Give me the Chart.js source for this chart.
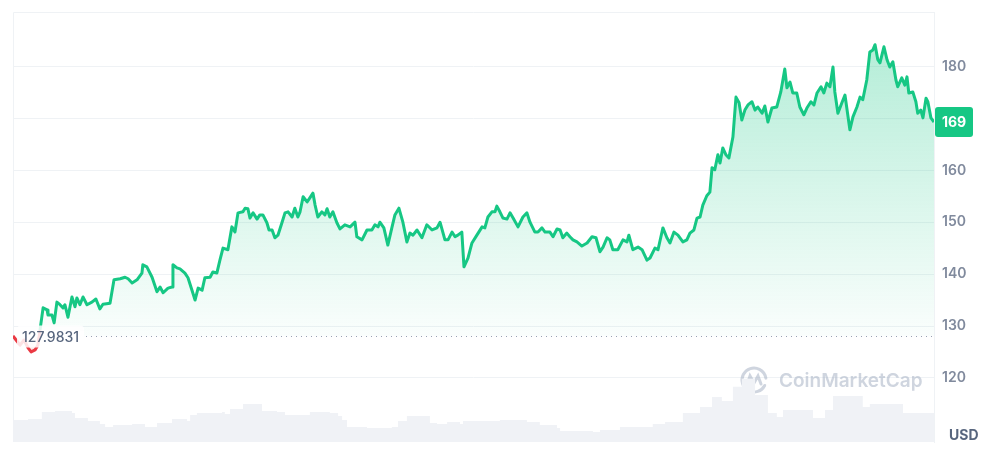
<!DOCTYPE html>
<html>
<head>
<meta charset="utf-8">
<script src="https://cdn.jsdelivr.net/npm/chart.js"></script>
<style>
  html, body { margin: 0; padding: 0; background: #fff; }
  #wrap { width: 1003px; height: 451px; }
</style>
</head>
<body>
<div id="wrap"><canvas id="priceChart"></canvas></div>
<script>
// Price over the month (x = days since start)
var priceDays = [
  0, 0.10, 0.23, 0.36, 0.49, 0.59, 0.72, 0.81, 0.88, 0.98,
  1.11, 1.14, 1.27, 1.34, 1.43, 1.53, 1.63, 1.69, 1.79, 1.92,
  2.02, 2.08, 2.18, 2.28, 2.41, 2.57, 2.70, 2.83, 2.93, 3.16,
  3.29, 3.49, 3.65, 3.75, 3.88, 4.04, 4.20, 4.23, 4.36, 4.53,
  4.69, 4.79, 4.89, 5.05, 5.18, 5.21, 5.34, 5.44, 5.60, 5.70,
  5.83, 5.93, 6.03, 6.16, 6.25, 6.42, 6.51, 6.64, 6.74, 6.84,
  7.00, 7.13, 7.23, 7.33, 7.49, 7.56, 7.65, 7.72, 7.82, 7.95,
  8.04, 8.14, 8.27, 8.34, 8.44, 8.53, 8.63, 8.76, 8.86, 8.96,
  9.09, 9.18, 9.28, 9.35, 9.45, 9.58, 9.67, 9.77, 9.84, 9.93,
  10.06, 10.16, 10.23, 10.32, 10.42, 10.55, 10.65, 10.81, 10.98, 11.14,
  11.20, 11.37, 11.53, 11.69, 11.79, 11.89, 11.95, 12.08, 12.21, 12.34,
  12.44, 12.57, 12.70, 12.83, 12.93, 13.03, 13.16, 13.32, 13.48, 13.65,
  13.81, 13.91, 14.07, 14.17, 14.30, 14.40, 14.49, 14.62, 14.69, 14.82,
  14.95, 15.11, 15.28, 15.37, 15.47, 15.60, 15.70, 15.76, 15.86, 15.96,
  16.09, 16.19, 16.29, 16.45, 16.61, 16.74, 16.84, 17.00, 17.10, 17.23,
  17.33, 17.49, 17.59, 17.72, 17.82, 17.91, 18.04, 18.14, 18.24, 18.37,
  18.53, 18.70, 18.86, 18.99, 19.12, 19.22, 19.35, 19.44, 19.54, 19.70,
  19.87, 20.00, 20.06, 20.19, 20.36, 20.49, 20.65, 20.75, 20.91, 21.01,
  21.17, 21.30, 21.40, 21.53, 21.66, 21.82, 21.95, 22.05, 22.18, 22.28,
  22.38, 22.47, 22.60, 22.70, 22.77, 22.86, 22.96, 23.03, 23.12, 23.22,
  23.32, 23.45, 23.55, 23.65, 23.74, 23.84, 23.94, 24.07, 24.17, 24.26,
  24.40, 24.49, 24.59, 24.72, 24.88, 25.01, 25.14, 25.21, 25.31, 25.40,
  25.53, 25.63, 25.76, 25.86, 25.99, 26.09, 26.19, 26.32, 26.41, 26.51,
  26.61, 26.71, 26.77, 26.87, 27.00, 27.10, 27.26, 27.36, 27.49, 27.59,
  27.68, 27.81, 27.91, 28.01, 28.08, 28.17, 28.24, 28.37, 28.47, 28.56,
  28.66, 28.76, 28.82, 28.95, 29.05, 29.12, 29.18, 29.31, 29.41, 29.47,
  29.57, 29.64, 29.74, 29.80, 29.90, 30.00
];
var priceValues = [
  128.1, 127.3, 126.3, 127.3, 125.8, 125.0, 125.4, 126.3, 129.2, 133.5,
  133.1, 132.1, 132.1, 130.6, 134.6, 134.1, 133.5, 134.1, 131.7, 135.6,
  133.7, 135.4, 134.1, 135.6, 134.1, 134.6, 135.2, 133.3, 134.2, 134.4,
  138.9, 139.1, 139.4, 139.1, 138.3, 138.9, 140.2, 141.8, 141.4, 139.4,
  136.6, 137.5, 136.4, 137.3, 137.5, 141.8, 141.2, 141.0, 140.2, 139.3,
  136.9, 135.0, 137.3, 136.9, 139.3, 139.4, 140.4, 140.2, 142.7, 145.0,
  144.7, 149.1, 148.1, 151.8, 152.0, 152.7, 152.6, 150.8, 151.8, 150.6,
  151.4, 151.4, 149.9, 148.5, 148.5, 147.0, 147.5, 149.9, 151.8, 152.0,
  151.0, 152.7, 151.0, 152.0, 154.9, 153.9, 154.7, 155.6, 153.3, 151.0,
  152.0, 151.4, 152.6, 151.0, 152.0, 149.9, 148.7, 149.5, 149.1, 150.0,
  147.2, 146.6, 148.5, 148.5, 149.5, 149.1, 150.0, 148.9, 145.6, 148.9,
  151.4, 152.7, 150.0, 146.2, 147.9, 147.5, 148.5, 147.0, 149.5, 148.5,
  148.9, 150.0, 146.6, 146.6, 148.1, 147.2, 147.5, 148.1, 141.4, 143.1,
  146.0, 147.5, 149.1, 148.9, 151.0, 152.0, 152.0, 153.1, 152.0, 150.8,
  150.6, 151.8, 150.8, 149.1, 151.0, 151.8, 150.0, 148.1, 148.1, 148.9,
  148.1, 148.1, 147.2, 148.7, 148.5, 147.0, 147.9, 147.2, 146.6, 146.2,
  145.4, 146.0, 147.2, 147.0, 144.3, 145.2, 147.0, 146.6, 144.7, 144.7,
  146.6, 146.2, 147.5, 144.7, 145.2, 144.7, 142.7, 143.1, 145.0, 144.7,
  148.9, 147.0, 146.0, 148.1, 147.5, 146.2, 146.6, 147.9, 148.5, 150.8,
  151.0, 153.3, 155.1, 155.8, 160.5, 160.1, 163.0, 161.4, 164.3, 163.0,
  162.4, 166.4, 174.1, 173.0, 169.7, 171.6, 172.6, 173.2, 171.6, 172.2,
  171.0, 172.4, 169.3, 172.0, 172.2, 175.1, 179.5, 175.9, 177.0, 174.9,
  174.9, 172.2, 170.7, 172.0, 173.2, 172.6, 174.9, 176.1, 174.9, 176.8,
  176.1, 179.9, 175.1, 171.0, 173.0, 174.5, 167.8, 170.3, 172.2, 174.1,
  173.6, 177.4, 182.8, 183.2, 184.2, 181.3, 180.7, 183.8, 181.3, 179.9,
  180.9, 177.4, 176.1, 177.8, 176.4, 178.0, 174.9, 175.1, 173.2, 171.0,
  171.6, 170.1, 173.9, 173.2, 170.1, 169.3
];

// Trading volume (millions USD), each value holds until the next day mark
var volumeDays = [
  0, 0.49, 0.94, 1.37, 1.92, 2.02, 2.44, 2.83, 3.00, 3.26,
  3.88, 4.30, 4.69, 5.18, 5.67, 5.77, 5.99, 6.81, 6.90, 7.07,
  7.49, 8.11, 8.60, 8.86, 9.67, 10.32, 10.59, 10.72, 10.88, 11.53,
  12.34, 12.54, 12.83, 13.58, 13.81, 14.14, 14.56, 14.66, 15.86, 16.74,
  17.16, 17.72, 17.82, 18.89, 19.12, 19.77, 20.84, 21.24, 21.82, 22.38,
  22.77, 23.09, 23.45, 23.74, 24.17, 24.59, 24.88, 25.08, 26.06, 26.45,
  26.71, 27.68, 27.91, 28.99, 30.00
];
var volumeValues = [
  264, 276, 360, 372, 348, 288, 252, 216, 180, 204,
  216, 180, 228, 276, 252, 324, 348, 360, 336, 396,
  456, 372, 360, 324, 360, 348, 312, 264, 180, 168,
  180, 252, 312, 228, 216, 240, 216, 252, 264, 240,
  204, 168, 132, 120, 144, 180, 216, 240, 348, 420,
  540, 492, 660, 756, 564, 348, 300, 384, 288, 384,
  552, 420, 456, 348, 348
];

var priceTicks = [120, 130, 140, 150, 160, 170, 180];
var openPrice = 127.9831;
var openLabel = '127.9831';
var lastPriceLabel = '169';
var currency = 'USD';

var green = '#16c784';
var red = '#ea3943';

var overlay = {
  id: 'overlay',
  beforeDatasetsDraw: function(chart) {
    var c = chart.ctx, a = chart.chartArea;
    c.save();
    // frame top and left
    c.strokeStyle = '#eff2f5';
    c.lineWidth = 1;
    c.beginPath();
    c.moveTo(a.left + 0.5, a.bottom);
    c.lineTo(a.left + 0.5, a.top + 0.5);
    c.lineTo(a.right, a.top + 0.5);
    c.stroke();
    // watermark
    var cx = 754, cy = 380;
    c.strokeStyle = 'rgba(160,172,192,0.5)';
    c.lineWidth = 3;
    c.lineCap = 'round';
    c.beginPath();
    c.arc(cx, cy, 12, 0.15 * Math.PI, 1.95 * Math.PI);
    c.stroke();
    c.beginPath();
    c.moveTo(cx - 7, cy + 5);
    c.lineTo(cx - 4, cy - 4);
    c.lineTo(cx, cy + 3);
    c.lineTo(cx + 4, cy - 4);
    c.lineTo(cx + 7, cy + 4);
    c.stroke();
    c.fillStyle = 'rgba(160,172,192,0.5)';
    c.font = '600 19px Inter';
    c.textBaseline = 'middle';
    c.fillText('CoinMarketCap', 779, 381);
    c.restore();
  },
  afterDatasetsDraw: function(chart) {
    var c = chart.ctx, a = chart.chartArea;
    var py = Math.round(chart.scales.y.getPixelForValue(openPrice)) + 0.5;
    c.save();
    c.strokeStyle = '#98a1b3';
    c.lineWidth = 1.2;
    c.setLineDash([1, 4]);
    c.beginPath();
    c.moveTo(86, py);
    c.lineTo(a.right, py);
    c.stroke();
    c.setLineDash([]);
    c.fillStyle = 'rgba(255,255,255,0.85)';
    c.beginPath();
    c.roundRect(17, py - 11, 67, 22, 4);
    c.fill();
    c.fillStyle = '#58667e';
    c.font = '500 14px Inter';
    c.textBaseline = 'middle';
    c.fillText(openLabel, 22, py + 1);
    c.restore();
  },
  afterDraw: function(chart) {
    var c = chart.ctx, a = chart.chartArea;
    var last = priceValues[priceValues.length - 1];
    var py = chart.scales.y.getPixelForValue(last);
    c.save();
    c.fillStyle = green;
    c.beginPath();
    c.roundRect(a.right + 1, py - 15, 38, 30, 3);
    c.fill();
    c.fillStyle = '#fff';
    c.font = '700 14px Inter';
    c.textAlign = 'center';
    c.textBaseline = 'middle';
    c.fillText(lastPriceLabel, a.right + 20, py + 1);
    c.textAlign = 'left';
    c.fillStyle = '#58667e';
    c.font = '700 14px Inter';
    c.fillText(currency, 949, 436);
    c.restore();
  }
};

var ctx = document.getElementById('priceChart').getContext('2d');
var chart = new Chart(ctx, {
  type: 'line',
  data: {
    datasets: [{
      label: 'Price',
      data: priceDays.map(function(d, i) { return {x: d, y: priceValues[i]}; }),
      yAxisID: 'y',
      borderColor: green,
      borderWidth: 3,
      borderJoinStyle: 'round',
      pointRadius: 0,
      tension: 0,
      fill: {target: {value: openPrice}, above: 'rgba(22,199,132,0.15)', below: 'rgba(234,57,67,0.1)'},
      segment: {
        borderColor: function(s) {
          return (s.p0.parsed.y + s.p1.parsed.y) / 2 < openPrice ? red : green;
        }
      },
      order: 1
    }, {
      label: 'Volume',
      data: volumeDays.map(function(d, i) { return {x: d, y: volumeValues[i]}; }),
      yAxisID: 'yv',
      stepped: true,
      borderWidth: 0,
      backgroundColor: '#f0f2f6',
      fill: 'origin',
      pointRadius: 0,
      order: 2
    }]
  },
  options: {
    responsive: true,
    maintainAspectRatio: false,
    animation: false,
    layout: {padding: {left: 13, top: 12, bottom: 9, right: 0}},
    plugins: {
      legend: {display: false},
      tooltip: {enabled: false}
    },
    scales: {
      x: {type: 'linear', min: 0, max: 30, display: false},
      y: {
        position: 'right',
        min: 107.65,
        max: 190.5,
        afterBuildTicks: function(axis) {
          axis.ticks = priceTicks.map(function(v) { return {value: v}; });
        },
        afterFit: function(axis) {
          axis.width = 69;
          axis.paddingTop = 0;
          axis.paddingBottom = 0;
        },
        grid: {color: '#eff2f5', drawTicks: false},
        border: {display: true, color: '#eff2f5'},
        ticks: {
          padding: 8,
          color: '#808a9d',
          font: {family: 'Inter', size: 14, weight: '600'}
        }
      },
      yv: {display: false, min: 0, max: 5148}
    }
  },
  plugins: [overlay]
});

// gradients need the chart area
var area = chart.chartArea;
var baseY = chart.scales.y.getPixelForValue(openPrice);
var gUp = ctx.createLinearGradient(0, area.top + 30, 0, baseY);
gUp.addColorStop(0, 'rgba(22,199,132,0.32)');
gUp.addColorStop(1, 'rgba(22,199,132,0.02)');
var gDown = ctx.createLinearGradient(0, baseY, 0, baseY + 30);
gDown.addColorStop(0, 'rgba(234,57,67,0.03)');
gDown.addColorStop(1, 'rgba(234,57,67,0.25)');
chart.data.datasets[0].fill.above = gUp;
chart.data.datasets[0].fill.below = gDown;
chart.update();
</script>
</body>
</html>
